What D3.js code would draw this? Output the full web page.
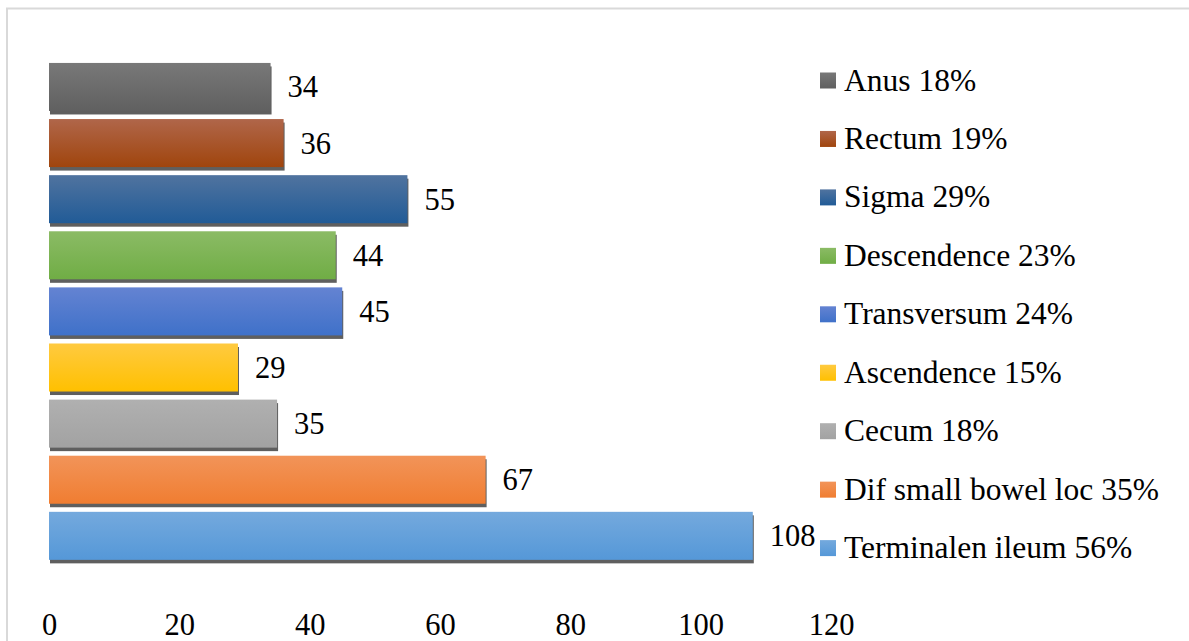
<!DOCTYPE html>
<html>
<head>
<meta charset="utf-8">
<script src="https://cdn.jsdelivr.net/npm/d3@7/dist/d3.min.js"></script>
<style>
  html, body { margin: 0; padding: 0; background: #ffffff; }
  svg { display: block; }
  text { font-family: "Liberation Serif", "Times New Roman", serif; fill: #000; }
</style>
</head>
<body>
<svg id="chart" width="1189" height="641"></svg>
<script>
// Localisation of lesions, listed from the top bar down
const categories = ["Anus", "Rectum", "Sigma", "Descendence", "Transversum",
                    "Ascendence", "Cecum", "Dif small bowel loc", "Terminalen ileum"];
const counts = [34, 36, 55, 44, 45, 29, 35, 67, 108];
const percents = ["18%", "19%", "29%", "23%", "24%", "15%", "18%", "35%", "56%"];
const xTicks = [0, 20, 40, 60, 80, 100, 120];

// Gradient stops per category (lighter top, deeper bottom)
const colorTop = ["#787878", "#b0664a", "#50739f", "#8bbb65", "#6483d2",
                  "#ffca40", "#b0b0b0", "#f29459", "#74a9dd"];
const colorBottom = ["#606060", "#a0450d", "#215b97", "#70ad45", "#3f71c9",
                     "#ffc000", "#a2a2a2", "#f07d31", "#5598d8"];

const svg = d3.select("#chart");
const FONT = 30.5;
const LEGEND_FONT = 31.5;

// Outer frame
svg.append("rect")
  .attr("x", 7).attr("y", 8.5)
  .attr("width", 1240).attr("height", 700)
  .attr("fill", "none").attr("stroke", "#d9d9d9").attr("stroke-width", 2);

const defs = svg.append("defs");
categories.forEach((c, i) => {
  const g = defs.append("linearGradient")
    .attr("id", "grad" + i)
    .attr("x1", 0).attr("y1", 0).attr("x2", 0).attr("y2", 1);
  g.append("stop").attr("offset", "0%").attr("stop-color", colorTop[i]);
  g.append("stop").attr("offset", "100%").attr("stop-color", colorBottom[i]);
});

const x = d3.scaleLinear().domain([0, 120]).range([49, 831]);
const y = d3.scaleBand()
  .domain(categories)
  .range([58.9, 563.9])
  .paddingInner(0.144)
  .paddingOuter(0.072);

const rows = categories.map((c, i) => ({ c, v: counts[i], i }));

// Drop shadows under bars
svg.append("g").selectAll("rect")
  .data(rows).join("rect")
  .attr("x", x(0) + 1)
  .attr("y", d => y(d.c) + 3.5)
  .attr("width", d => x(d.v) - x(0))
  .attr("height", y.bandwidth())
  .attr("fill", "#5f5f5f");

// Bars
svg.append("g").selectAll("rect")
  .data(rows).join("rect")
  .attr("x", x(0))
  .attr("y", d => y(d.c))
  .attr("width", d => x(d.v) - x(0))
  .attr("height", y.bandwidth())
  .attr("fill", d => `url(#grad${d.i})`);

// Value labels
svg.append("g").selectAll("text")
  .data(rows).join("text")
  .attr("x", d => x(d.v) + 17)
  .attr("y", d => y(d.c) + y.bandwidth() / 2 + 10.5)
  .attr("font-size", FONT)
  .text(d => d.v);

// X axis (labels only)
const axis = svg.append("g")
  .attr("font-family", "Liberation Serif, Times New Roman, serif")
  .call(d3.axisBottom(x).tickValues(xTicks).tickSize(0).tickFormat(d3.format("d")));
axis.select(".domain").remove();
axis.selectAll("text")
  .attr("y", 635).attr("dy", null)
  .attr("font-size", FONT)
  .attr("font-family", "Liberation Serif, Times New Roman, serif")
  .attr("fill", "#000");

// Legend
const legend = svg.append("g").selectAll("g")
  .data(rows).join("g")
  .attr("transform", d => `translate(820,${80.5 + d.i * 58.45})`);
legend.append("rect")
  .attr("x", 0).attr("y", -8)
  .attr("width", 16).attr("height", 16)
  .attr("fill", d => `url(#grad${d.i})`);
legend.append("text")
  .attr("x", 24).attr("y", 10)
  .attr("font-size", LEGEND_FONT)
  .text(d => `${d.c} ${percents[d.i]}`);
</script>
</body>
</html>
